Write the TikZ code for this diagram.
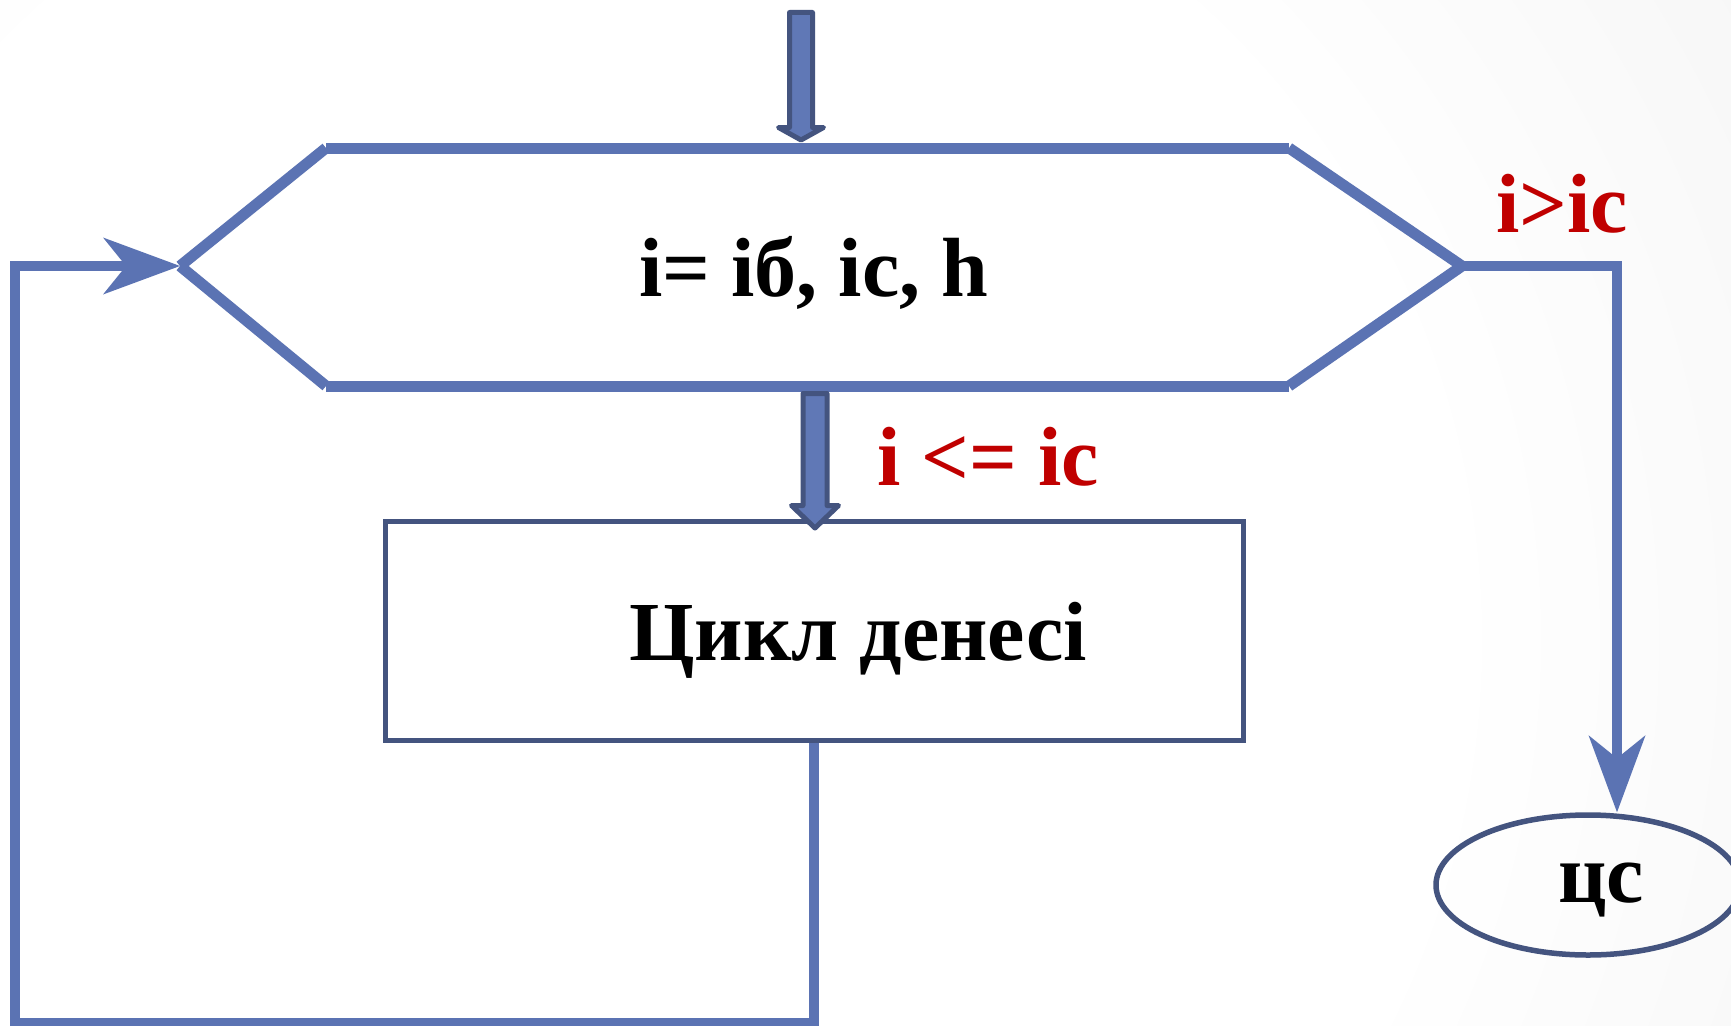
\documentclass[tikz,border=0pt]{standalone}
\usepackage{fontspec}
\setmainfont{Liberation Serif}
\usetikzlibrary{arrows.meta,shapes.geometric,calc}
\definecolor{lineblue}{HTML}{5B73B3}
\definecolor{darkblue}{HTML}{44547F}
\definecolor{fillblue}{HTML}{6078B6}
\definecolor{redtxt}{HTML}{C00000}
\definecolor{bgmid}{HTML}{F0F0F0}
\definecolor{bggray}{HTML}{D6D6D6}
\pgfdeclareradialshading{bgshade}{\pgfpoint{0bp}{0bp}}{color(0bp)=(white); color(8bp)=(white); color(16.5bp)=(bgmid); color(24bp)=(bggray); color(50bp)=(bggray)}
\begin{document}
\begin{tikzpicture}[x=1pt,y=-1pt,
  hexline/.style={draw=lineblue,line width=11pt,line cap=butt},
  conn/.style={draw=lineblue,line width=10pt,line join=miter},
  tipend/.style={-{Stealth[length=77pt,width=57pt,inset=23pt,line width=0pt]}},
  blockarr/.style={draw=darkblue,fill=fillblue,line width=5pt,line join=round},
  bodybox/.style={draw=darkblue,line width=5pt,fill=white,rectangle,inner sep=0pt,minimum width=858pt,minimum height=219pt},
  endell/.style={draw=darkblue,line width=5.5pt,ellipse,inner sep=0pt,minimum width=304pt,minimum height=140pt},
  lbl/.style={font=\fontsize{84pt}{90pt}\selectfont\bfseries,text=black,inner sep=0pt},
  redlbl/.style={font=\fontsize{84pt}{90pt}\selectfont\bfseries,text=redtxt,inner sep=0pt}]
\useasboundingbox (0,0) rectangle (1731,1025);
\begin{scope}
  \clip (0,0) rectangle (1731,1025);
  \shade[shading=bgshade] (620,640) circle (2600);
\end{scope}
% hexagon (loop header), drawn as separate strokes
\coordinate (hexL) at (180,266);
\coordinate (hexR) at (1462,266);
\coordinate (hexTL) at (326,148);
\coordinate (hexTR) at (1289,148);
\coordinate (hexBR) at (1289,386);
\coordinate (hexBL) at (326,386);
\draw[hexline] (hexL) -- (hexTL);
\draw[hexline] (hexTL) -- (hexTR);
\draw[hexline] (hexTR) -- (hexR);
\draw[hexline] (hexR) -- (hexBR);
\draw[hexline] (hexBR) -- (hexBL);
\draw[hexline] (hexBL) -- (hexL);
\node[lbl,anchor=base] (hextext) at (813.5,296) {i= iб, ic, h};
% body rectangle
\node[bodybox] (body) at (814,630.5) {};
\node[lbl,anchor=base] (bodytext) at (858,660) {Цикл денесі};
% end ellipse
\node[endell] (ell) at (1588,885) {};
\node[lbl,anchor=base] (elltext) at (1601,902) {цс};
% incoming block arrow
\coordinate (inTop) at (801,12.5);
\draw[blockarr] ($(inTop)+(-11.5,0)$) -- ($(inTop)+(11.5,0)$) -- (812.5,127.5) -- (823.5,127.5)
   -- (801,140) -- (778.5,127.5) -- (789.5,127.5) -- cycle;
% block arrow hexagon -> body
\coordinate (dnTop) at (815,393.5);
\draw[blockarr] ($(dnTop)+(-12,0)$) -- ($(dnTop)+(12,0)$) -- (827,505.5) -- (838.5,505.5)
   -- (815,528) -- (791.5,505.5) -- (803,505.5) -- cycle;
% exit connector
\draw[conn,tipend] (hexR) -| ([xshift=29pt]ell.north);
% loop back connector
\coordinate (lx) at (15,0);
\coordinate (by) at (0,1022.5);
\draw[conn,tipend] (body.south) -- (body.south |- by) -- (by -| lx) -- (hexL -| lx) -- (hexL);
% condition labels
\node[redlbl,anchor=base] (gt) at (1562,232) {i>ic};
\node[redlbl,anchor=base] (le) at (988,485) {i <= ic};
\end{tikzpicture}
\end{document}
